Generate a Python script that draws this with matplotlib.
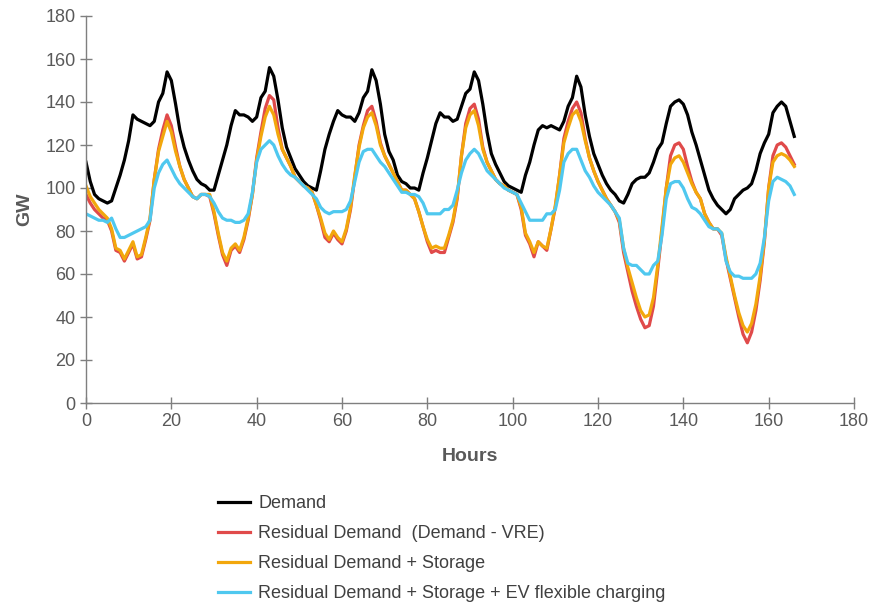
import matplotlib
matplotlib.use("Agg")
import matplotlib.pyplot as plt
import numpy as np

plt.rcParams['font.family'] = ['Liberation Sans', 'DejaVu Sans']

hours = list(range(167))

demand = [112, 103, 97, 95, 94, 93, 94, 100, 106, 113, 122, 134, 132, 131, 130, 129, 131, 140, 144, 154,
          150, 139, 127, 119, 113, 108, 104, 102, 101, 99, 99, 106, 113, 120, 129, 136, 134, 134, 133, 131,
          133, 142, 145, 156, 152, 141, 128, 119, 114, 109, 106, 103, 101, 100, 99, 108, 118, 125, 131, 136,
          134, 133, 133, 131, 135, 142, 145, 155, 150, 139, 125, 117, 113, 106, 103, 102, 100, 100, 99, 107,
          114, 122, 130, 135, 133, 133, 131, 132, 138, 144, 146, 154, 150, 139, 126, 116, 111, 107, 103, 101,
          100, 99, 98, 106, 112, 120, 127, 129, 128, 129, 128, 127, 131, 138, 142, 152, 147, 134, 124, 116,
          111, 106, 102, 99, 97, 94, 93, 97, 102, 104, 105, 105, 107, 112, 118, 121, 130, 138, 140, 141,
          139, 134, 126, 120, 113, 106, 99, 95, 92, 90, 88, 90, 95, 97, 99, 100, 102, 108, 116, 121,
          125, 135, 138, 140, 138, 131, 124]

residual = [97, 93, 90, 88, 86, 85, 80, 71, 70, 66, 70, 74, 67, 68, 76, 85, 104, 118, 127, 134,
            129, 119, 110, 104, 100, 96, 95, 97, 97, 96, 88, 78, 69, 64, 71, 73, 70, 76, 85, 97,
            114, 126, 137, 143, 141, 128, 118, 114, 110, 105, 103, 101, 100, 98, 92, 85, 77, 75, 79, 76,
            74, 80, 90, 105, 120, 129, 136, 138, 131, 121, 115, 111, 107, 103, 99, 99, 97, 95, 89, 82,
            75, 70, 71, 70, 70, 77, 84, 95, 115, 130, 137, 139, 132, 119, 112, 108, 104, 102, 101, 99,
            98, 97, 90, 78, 74, 68, 75, 73, 71, 81, 91, 106, 123, 131, 137, 140, 135, 123, 114, 108,
            103, 99, 95, 92, 89, 84, 70, 61, 52, 45, 39, 35, 36, 45, 62, 80, 100, 115, 120, 121,
            118, 110, 103, 98, 95, 88, 84, 81, 81, 78, 67, 58, 49, 40, 32, 28, 33, 43, 57, 75,
            100, 115, 120, 121, 119, 115, 111]

storage = [101, 96, 93, 90, 88, 86, 81, 72, 71, 67, 71, 75, 68, 69, 77, 86, 104, 117, 124, 131,
           126, 117, 110, 104, 100, 96, 95, 97, 97, 97, 89, 79, 70, 66, 72, 74, 71, 77, 86, 97,
           113, 124, 133, 138, 134, 125, 118, 114, 110, 105, 103, 101, 100, 98, 92, 86, 79, 76, 80, 77,
           75, 81, 91, 106, 119, 128, 133, 135, 129, 120, 115, 111, 107, 103, 99, 99, 97, 95, 89, 82,
           76, 72, 73, 72, 72, 78, 85, 96, 115, 128, 134, 136, 129, 118, 112, 108, 104, 102, 101, 99,
           98, 97, 91, 79, 75, 70, 75, 73, 72, 81, 92, 106, 121, 128, 134, 136, 131, 122, 114, 108,
           103, 99, 95, 92, 89, 85, 72, 63, 56, 49, 43, 40, 41, 49, 64, 82, 100, 111, 114, 115,
           112, 107, 102, 98, 95, 88, 84, 81, 81, 79, 68, 59, 50, 42, 36, 33, 37, 46, 59, 76,
           100, 112, 115, 116, 115, 113, 110]

ev_flex = [88, 87, 86, 85, 85, 84, 86, 81, 77, 77, 78, 79, 80, 81, 82, 85, 100, 107, 111, 113,
           109, 105, 102, 100, 98, 96, 95, 97, 97, 96, 93, 89, 86, 85, 85, 84, 84, 85, 88, 98,
           112, 118, 120, 122, 120, 115, 111, 108, 106, 105, 103, 101, 99, 97, 95, 91, 89, 88, 89, 89,
           89, 90, 94, 103, 112, 117, 118, 118, 115, 112, 110, 107, 104, 101, 98, 98, 97, 97, 96, 93,
           88, 88, 88, 88, 90, 90, 92, 99, 107, 113, 116, 118, 116, 112, 108, 106, 104, 102, 100, 99,
           98, 97, 93, 89, 85, 85, 85, 85, 88, 88, 90, 99, 112, 116, 118, 118, 113, 108, 105, 101,
           98, 96, 94, 92, 89, 86, 72, 65, 64, 64, 62, 60, 60, 64, 66, 78, 95, 102, 103, 103,
           100, 95, 91, 90, 88, 85, 82, 81, 81, 79, 66, 61, 59, 59, 58, 58, 58, 60, 65, 77,
           94, 103, 105, 104, 103, 101, 97]

labels = ["Demand",
          "Residual Demand  (Demand - VRE)",
          "Residual Demand + Storage",
          "Residual Demand + Storage + EV flexible charging"]
colors = ["#000000", "#e04a4a", "#f2a70c", "#4fc8ef"]

x_ticks = [0, 20, 40, 60, 80, 100, 120, 140, 160, 180]
y_ticks = [0, 20, 40, 60, 80, 100, 120, 140, 160, 180]

fig = plt.figure(figsize=(8.72, 6.05), dpi=100)
ax = fig.add_axes([86/872, (605-403)/605, (854-86)/872, (403-16)/605])

for series, lab, col in zip([demand, residual, storage, ev_flex], labels, colors):
    ax.plot(hours, series, color=col, lw=2.3, label=lab, solid_joinstyle='round')

grey = "#595959"
ax.set_xlim(0, 180)
ax.set_ylim(0, 180)
ax.set_xticks(x_ticks)
ax.set_yticks(y_ticks)
for s in ["top", "right"]:
    ax.spines[s].set_visible(False)
for s in ["left", "bottom"]:
    ax.spines[s].set_color("#7f7f7f")
    ax.spines[s].set_linewidth(1.0)
ax.tick_params(direction="inout", length=9, width=1.0, color="#7f7f7f",
               labelcolor=grey, labelsize=13, pad=3)
ax.set_xlabel("Hours", fontsize=14, fontweight="bold", color=grey, labelpad=13)
ax.set_ylabel("GW", fontsize=14, fontweight="bold", color=grey, labelpad=9)

fig.legend(loc="upper left", bbox_to_anchor=(218/872, 1 - 495/605), frameon=False,
           fontsize=13, labelspacing=0.72, handlelength=1.78, handletextpad=0.44,
           borderpad=0, borderaxespad=0, labelcolor="#404040")

fig.savefig("out.png", dpi=100)
